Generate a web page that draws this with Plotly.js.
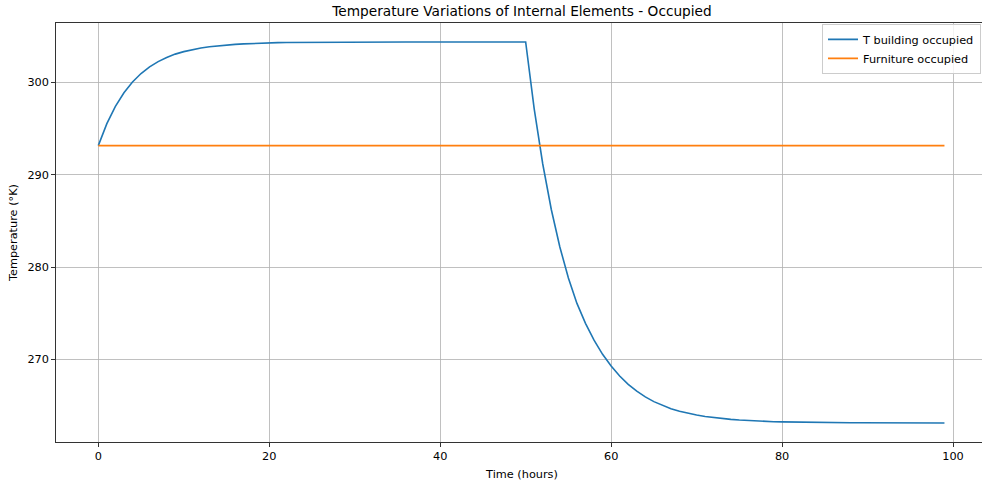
<!DOCTYPE html>
<html>
<head>
<meta charset="utf-8">
<script src="https://cdn.plot.ly/plotly-3.0.1.min.js"></script>
<style>
  html, body { margin: 0; padding: 0; background: #ffffff; overflow: hidden; width: 982px; height: 483px; }
  #chart { width: 988px; height: 483px; }
</style>
</head>
<body>
<div id="chart"></div>
<script>
// Simulation time steps (hours)
const hours = [
  0, 1, 2, 3, 4, 5, 6, 7, 8, 9,
  10, 11, 12, 13, 14, 15, 16, 17, 18, 19,
  20, 21, 22, 23, 24, 25, 26, 27, 28, 29,
  30, 31, 32, 33, 34, 35, 36, 37, 38, 39,
  40, 41, 42, 43, 44, 45, 46, 47, 48, 49,
  50, 51, 52, 53, 54, 55, 56, 57, 58, 59,
  60, 61, 62, 63, 64, 65, 66, 67, 68, 69,
  70, 71, 72, 73, 74, 75, 76, 77, 78, 79,
  80, 81, 82, 83, 84, 85, 86, 87, 88, 89,
  90, 91, 92, 93, 94, 95, 96, 97, 98, 99
];

// Building air temperature (K) while occupied
const tBuildingOccupied = [
  293.15, 295.53, 297.40, 298.88, 300.04, 300.96, 301.68, 302.25, 302.70, 303.06,
  303.33, 303.55, 303.73, 303.86, 303.97, 304.06, 304.12, 304.17, 304.22, 304.25,
  304.27, 304.30, 304.31, 304.32, 304.33, 304.34, 304.35, 304.35, 304.36, 304.36,
  304.36, 304.37, 304.37, 304.37, 304.37, 304.37, 304.37, 304.37, 304.37, 304.37,
  304.37, 304.37, 304.37, 304.37, 304.37, 304.37, 304.37, 304.37, 304.37, 304.37,
  304.37, 297.13, 291.16, 286.23, 282.17, 278.82, 276.06, 273.90, 272.08, 270.55,
  269.28, 268.20, 267.30, 266.55, 265.93, 265.42, 265.00, 264.66, 264.38, 264.15,
  263.97, 263.82, 263.69, 263.59, 263.50, 263.43, 263.37, 263.33, 263.29, 263.25,
  263.23, 263.21, 263.19, 263.18, 263.16, 263.15, 263.14, 263.14, 263.13, 263.13,
  263.12, 263.12, 263.12, 263.11, 263.11, 263.11, 263.11, 263.11, 263.11, 263.11
];

// Furniture temperature (K) while occupied
const furnitureOccupied = [
  293.15, 293.15, 293.15, 293.15, 293.15, 293.15, 293.15, 293.15, 293.15, 293.15,
  293.15, 293.15, 293.15, 293.15, 293.15, 293.15, 293.15, 293.15, 293.15, 293.15,
  293.15, 293.15, 293.15, 293.15, 293.15, 293.15, 293.15, 293.15, 293.15, 293.15,
  293.15, 293.15, 293.15, 293.15, 293.15, 293.15, 293.15, 293.15, 293.15, 293.15,
  293.15, 293.15, 293.15, 293.15, 293.15, 293.15, 293.15, 293.15, 293.15, 293.15,
  293.15, 293.15, 293.15, 293.15, 293.15, 293.15, 293.15, 293.15, 293.15, 293.15,
  293.15, 293.15, 293.15, 293.15, 293.15, 293.15, 293.15, 293.15, 293.15, 293.15,
  293.15, 293.15, 293.15, 293.15, 293.15, 293.15, 293.15, 293.15, 293.15, 293.15,
  293.15, 293.15, 293.15, 293.15, 293.15, 293.15, 293.15, 293.15, 293.15, 293.15,
  293.15, 293.15, 293.15, 293.15, 293.15, 293.15, 293.15, 293.15, 293.15, 293.15
];

const seriesNames = ['T building occupied', 'Furniture occupied'];
const xTicks = [0, 20, 40, 60, 80, 100];
const yTicks = [270, 280, 290, 300];

const FONT = 'DejaVu Sans, Liberation Sans, sans-serif';
const TXT = 11.3;

// Axes box geometry; the box runs a few pixels past the right edge of the view
const VIEW_W = 982;
const FIG_W = 988;
const M_LEFT = 56;
const PX_PER_HOUR = 8.547;
const X_MIN = -4.95;
const plotW = FIG_W - M_LEFT;

const traces = [
  {
    x: hours, y: tBuildingOccupied, name: seriesNames[0],
    type: 'scatter', mode: 'lines',
    line: { color: '#1f77b4', width: 1.6 }
  },
  {
    x: hours, y: furnitureOccupied, name: seriesNames[1],
    type: 'scatter', mode: 'lines',
    line: { color: '#ff7f0e', width: 1.6 }
  }
];

const layout = {
  width: FIG_W,
  height: 483,
  paper_bgcolor: '#ffffff',
  plot_bgcolor: '#ffffff',
  margin: { l: M_LEFT, r: 0, t: 23, b: 41, pad: 0 },
  font: { family: FONT, size: TXT, color: '#000000' },
  title: {
    text: 'Temperature Variations of Internal Elements - Occupied',
    font: { family: FONT, size: 13.7, color: '#000000' },
    xref: 'paper', x: 0.5, xanchor: 'center',
    yref: 'container', y: 0.977, yanchor: 'middle'
  },
  xaxis: {
    range: [X_MIN, X_MIN + plotW / PX_PER_HOUR],
    tickvals: xTicks,
    ticktext: xTicks.map(String),
    ticks: 'outside', ticklen: 4, tickwidth: 0.8, tickcolor: '#000000',
    showline: true, linecolor: '#000000', linewidth: 0.8, mirror: true,
    showgrid: true, gridcolor: '#b0b0b0', gridwidth: 0.8,
    zeroline: false,
    tickfont: { family: FONT, size: TXT, color: '#000000' },
    title: { text: 'Time (hours)', font: { family: FONT, size: TXT, color: '#000000' }, standoff: 7 }
  },
  yaxis: {
    range: [261.05, 306.43],
    tickvals: yTicks,
    ticktext: yTicks.map(String),
    ticks: 'outside', ticklen: 4, tickwidth: 0.8, tickcolor: '#000000',
    showline: true, linecolor: '#000000', linewidth: 0.8, mirror: false,
    showgrid: true, gridcolor: '#b0b0b0', gridwidth: 0.8,
    zeroline: false,
    tickfont: { family: FONT, size: TXT, color: '#000000' },
    title: { text: 'Temperature (°K)', font: { family: FONT, size: TXT, color: '#000000' }, standoff: 7 }
  },
  showlegend: true,
  legend: {
    x: (VIEW_W - 1 - M_LEFT) / plotW, xanchor: 'right',
    y: 0.998, yanchor: 'top',
    bgcolor: 'rgba(255,255,255,0.8)',
    bordercolor: '#cccccc', borderwidth: 1,
    font: { family: FONT, size: TXT, color: '#000000' },
    itemwidth: 30,
    tracegroupgap: 0
  }
};

Plotly.newPlot('chart', traces, layout, { displayModeBar: false, staticPlot: true });
</script>
</body>
</html>
